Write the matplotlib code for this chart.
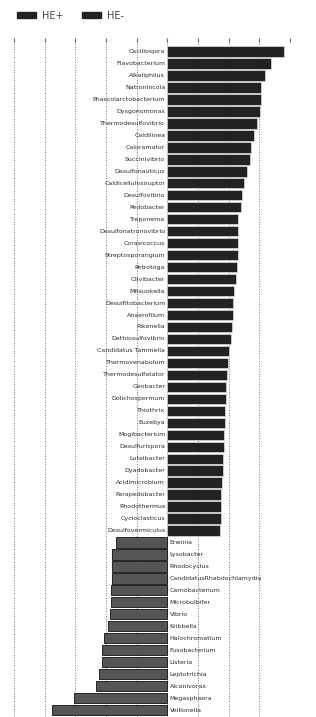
import matplotlib
matplotlib.use("Agg")
import matplotlib.pyplot as plt
from matplotlib.patches import Patch

# HE+ enriched genera (positive LDA-like score)
he_pos_names = [
    "Oscillospira", "Flavobacterium", "Alkaliphilus", "Natronincola",
    "Phascolarctobacterium", "Dysgonomonas", "Thermodesulfovibrio", "Caldilinea",
    "Caloramator", "Succinivibrio", "Desulfonauticus", "Caldicellulosiruptor",
    "Desulfovibrio", "Pedobacter", "Treponema", "Desulfonatronovibrio",
    "Corasicoccus", "Streptosporangium", "Petrotoga", "Olivibacter",
    "Mitsuokella", "Desulfitobacterium", "Anaerofilum", "Rikenella",
    "Dethiosulfovibrio", "Candidatus Tammella", "Thermovenabulum",
    "Thermodesulfatator", "Geobacter", "Dolichospermum", "Thiothrix",
    "Euzebya", "Mogibacterium", "Desulfurispora", "Luteibacter",
    "Dyadobacter", "Acidimicrobium", "Parapedobacter", "Rhodothermus",
    "Cycloclasticus", "Desulfovermiculus",
]
he_pos_vals = [
    3.80, 3.39, 3.20, 3.05, 3.05, 3.03, 2.93, 2.83, 2.74, 2.70, 2.61, 2.50,
    2.44, 2.40, 2.32, 2.32, 2.29, 2.29, 2.28, 2.23, 2.16, 2.13, 2.13, 2.10,
    2.06, 2.02, 1.97, 1.95, 1.91, 1.90, 1.88, 1.87, 1.86, 1.84, 1.83, 1.82,
    1.79, 1.76, 1.76, 1.74, 1.73,
]

# HE- enriched genera (negative score)
he_neg_names = [
    "Erwinia", "Lysobacter", "Rhodocyclus", "CandidatusRhabdochlamydia",
    "Carnobacterium", "Microbulbifer", "Vibrio", "Kribbella", "Halochromatium",
    "Fusobacterium", "Listeria", "Leptotrichia", "Alcanivorax", "Megasphaera",
    "Veillonella",
]
he_neg_vals = [
    -1.68, -1.79, -1.79, -1.81, -1.83, -1.84, -1.86, -1.93, -2.05, -2.14,
    -2.14, -2.23, -2.32, -3.04, -3.75,
]

grid_ticks = [-5, -4, -3, -2, -1, 0, 1, 2, 3, 4]

fig = plt.figure(figsize=(3.16, 7.17), dpi=100)
ax = fig.add_axes([14 / 316, 0.0, (290 - 14) / 316, (717 - 38) / 717])

n_pos = len(he_pos_names)
y_pos = [-i for i in range(n_pos)]
y_neg = [-(n_pos + i) for i in range(len(he_neg_names))]

ax.barh(y_pos, he_pos_vals, height=0.86, color="#222222",
        edgecolor="#dddddd", linewidth=0.5, zorder=2)
ax.barh(y_neg, he_neg_vals, height=0.86, color="#555555",
        edgecolor="#111111", linewidth=0.6, zorder=2)

for y, name in zip(y_pos, he_pos_names):
    ax.text(-0.07, y, name, ha="right", va="center", fontsize=4.5, color="#2a2a2a")
for y, name in zip(y_neg, he_neg_names):
    ax.text(0.08, y, name, ha="left", va="center", fontsize=4.5, color="#2a2a2a")

ax.set_xlim(-5, 4)
ax.set_ylim(y_neg[-1] - 0.58, 1.14)
ax.set_xticks(grid_ticks)
ax.set_yticks([])
ax.xaxis.tick_top()
ax.tick_params(axis="x", direction="in", length=3, color="#666666",
               labeltop=False, labelbottom=False)
ax.grid(axis="x", linestyle=":", color="#777777", linewidth=0.7, zorder=0)
for s in ax.spines.values():
    s.set_visible(False)

handles = [Patch(facecolor="#222222", edgecolor="#222222", label="HE+"),
           Patch(facecolor="#222222", edgecolor="#222222", label="HE-")]
fig.legend(handles=handles, loc="center left", bbox_to_anchor=(17 / 316, 1 - 15.7 / 717),
           ncol=2, frameon=False, fontsize=7, handlelength=1.95,
           handleheight=0.6, handletextpad=0.6, columnspacing=1.9,
           borderpad=0, borderaxespad=0, labelcolor="#444444")

fig.savefig("out.png", dpi=100)
plt.close(fig)
